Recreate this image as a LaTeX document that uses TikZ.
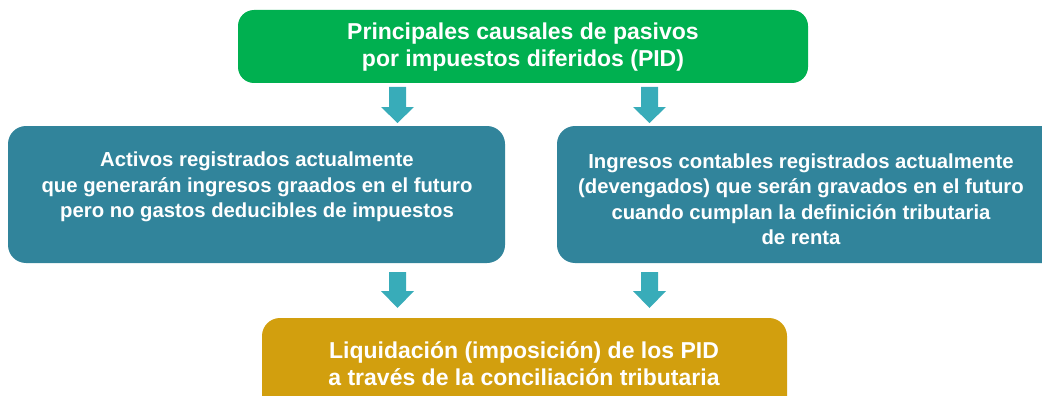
\documentclass[tikz,border=0pt]{standalone}
\usepackage{fontspec}
\setmainfont{Liberation Sans}
\definecolor{cgreen}{HTML}{00B050}
\definecolor{cteal}{HTML}{31849B}
\definecolor{carrow}{HTML}{38ACB9}
\definecolor{cgold}{HTML}{D29F0E}
\tikzset{
  boxtext/.style={text=white,font=\bfseries\fontsize{20.3}{25.5}\selectfont,align=center},
  bigtext/.style={text=white,font=\bfseries\fontsize{23}{27}\selectfont,align=center},
  blockarrow/.style={fill=carrow,draw=none}
}
\begin{document}
\begin{tikzpicture}[x=1pt,y=-1pt]
\useasboundingbox (0,0) rectangle (1042,396);
\clip (0,0) rectangle (1042,396);
% boxes
\fill[cgreen,rounded corners=16pt] (238,10) rectangle (808,83);
\fill[cteal,rounded corners=18pt] (8,126) rectangle (505,263);
\fill[cteal,rounded corners=18pt] (557,126) rectangle (1070,263);
\fill[cgold,rounded corners=18pt] (262,318) rectangle (787,430);
% texts
\node[bigtext] (top) at (523,47) {Principales causales de pasivos\\por impuestos diferidos (PID)};
\node[boxtext] (left) at (257,187) {Activos registrados actualmente\\que generarán ingresos graados en el futuro\\pero no gastos deducibles de impuestos};
\node[boxtext] (right) at (801,199) {Ingresos contables registrados actualmente\\(devengados) que serán gravados en el futuro\\cuando cumplan la definición tributaria\\de renta};
\node[bigtext] (bottom) at (524,364) {Liquidación (imposición) de los PID\\a través de la conciliación tributaria};
% arrows
\foreach \cx in {397.5,649.5}{
  \fill[blockarrow] (\cx-8.5,87) -- (\cx+8.5,87) -- (\cx+8.5,107) -- (\cx+16.5,107) -- (\cx,123) -- (\cx-16.5,107) -- (\cx-8.5,107) -- cycle;
  \fill[blockarrow] (\cx-8.5,272) -- (\cx+8.5,272) -- (\cx+8.5,291) -- (\cx+16.5,291) -- (\cx,308) -- (\cx-16.5,291) -- (\cx-8.5,291) -- cycle;
}
\end{tikzpicture}
\end{document}
